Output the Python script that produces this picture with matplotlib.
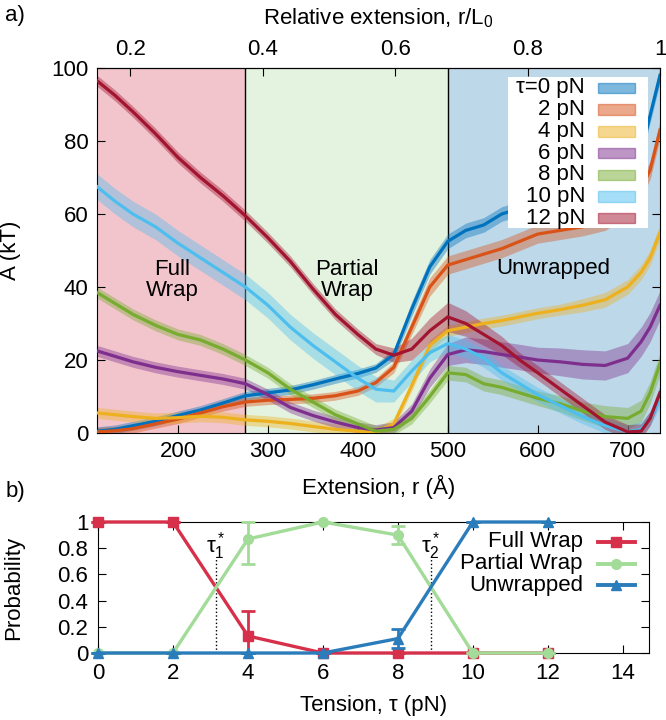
import numpy as np
import matplotlib
matplotlib.use("Agg")
import matplotlib.pyplot as plt
from matplotlib.patches import Rectangle
from matplotlib.lines import Line2D

plt.rcParams['font.family'] = ['Liberation Sans', 'DejaVu Sans']
plt.rcParams['mathtext.fontset'] = 'custom'
plt.rcParams['mathtext.rm'] = 'Liberation Sans'
plt.rcParams['mathtext.it'] = 'Liberation Sans:italic'
FS = 16
plt.rcParams['font.size'] = FS

# ---------------- data: panel a ----------------
L0 = 736.0
r = [110, 130, 150, 175, 200, 225, 250, 275, 300, 325, 350, 375, 400, 420, 440,
     460, 480, 500, 520, 540, 560, 580, 600, 625, 650, 675, 700, 715, 725, 736]

A_0 = [0.5, 1.0, 2.0, 3.2, 4.8, 6.3, 8.2, 10.2, 11.0, 11.8, 13.2, 14.8, 16.3, 17.8, 21.5,
       34, 45.5, 52.5, 55.5, 57, 60, 61.5, 62.5, 63.5, 65, 66.5, 70, 77, 87, 98]
A_2 = [0.3, 0.6, 1.2, 2.5, 3.8, 5.5, 7.2, 8.5, 9.0, 9.2, 9.5, 10.2, 11.5, 13.8, 18,
       29, 40, 46, 47.5, 49, 50.5, 52.5, 54.5, 55.5, 56.5, 58, 62, 67, 72, 83]
A_4 = [5.5, 5.0, 4.5, 4.0, 4.2, 4.6, 4.3, 3.6, 3.2, 2.6, 1.8, 1.0, 0.5, 0.1, 2.5,
       13, 24, 28, 29, 30, 30.8, 31.8, 32.8, 33.8, 35, 36.5, 40, 44, 48, 55]
A_6 = [22.5, 21, 19.5, 18, 16.8, 15.8, 14.8, 13.5, 10.5, 7, 4.8, 3.0, 1.5, 0.8, 1.5,
       6, 15, 21.5, 22.8, 22.3, 21.5, 20.8, 20, 19.5, 18.8, 18.5, 20.5, 25, 29, 35]
A_8 = [38.5, 35.5, 32.5, 29.5, 27, 25.5, 23, 20, 16.5, 12, 8.5, 5, 2.5, 0.5, 1.0,
       4, 10, 16.5, 16, 13.5, 12.5, 11, 9.5, 8, 6, 4.5, 4, 6, 11, 19]
A_10 = [67.5, 63.5, 60, 56.5, 52, 48, 44, 40, 35, 29, 24, 19.5, 15, 12, 11.5,
        17, 22, 24.5, 23, 20.5, 16.5, 13.5, 10.5, 7.5, 4.5, 2, 0.3, 1, 4, 9]
A_12 = [96.5, 92.5, 88, 82, 75.5, 70, 65, 59.5, 53.5, 47, 39.5, 32.5, 27, 23, 21.3,
        23, 28, 31.8, 30, 27, 24, 20, 16.5, 12, 7.5, 3, 0.3, 0.5, 4, 11]

# half-widths of the shaded bands
E_0 = [1.2] * 14 + [1.5, 2, 2, 2, 2, 2, 2, 2, 2, 2, 2, 2, 2, 2, 2, 2]
E_2 = [1.2] * 14 + [1.5, 2, 2.5, 2.5, 2.5, 2.5, 2.5, 2.5, 2.5, 2.5, 2.5, 2.5, 2.5, 2.5, 2.5, 2.5]
E_4 = [1.5] * 14 + [1.5, 1.5, 1.5, 1.5, 1.5, 1.5, 1.5, 1.5, 1.5, 1.5, 1.8, 2, 2, 2, 2, 2]
E_6 = [1.5] * 14 + [1.5, 2, 2.5, 3, 3.5, 3.5, 3.5, 3.5, 3.5, 3.8, 4, 4, 4, 4, 4, 4]
E_8 = [1.5] * 14 + [1.5, 1.5, 1.8, 2, 2, 2, 2, 2, 2, 2.2, 2.5, 3, 3, 3, 3, 3]
E_10 = [3.5] * 14 + [3, 3, 2.5, 2.5, 2.5, 2.5, 2, 2, 2, 2, 2, 2, 2, 2, 2, 2]
E_12 = [1.5] * 14 + [2, 3, 3.5, 4, 3.5, 3, 2.5, 2, 2, 2, 2, 2, 2, 2, 2, 2]

series_labels = ['τ=0 pN', '2 pN', '4 pN', '6 pN', '8 pN', '10 pN', '12 pN']
series_vals = [A_0, A_2, A_4, A_6, A_8, A_10, A_12]
series_err = [E_0, E_2, E_4, E_6, E_8, E_10, E_12]
colors = ['#0072BD', '#D95319', '#EDB120', '#7E2F8E', '#77AC30', '#4DBEEE', '#A2142F']

region_edges = [110, 275, 500, 736]
region_names = ['Full\nWrap', 'Partial\nWrap', 'Unwrapped']
region_colors = ['#f2c4cc', '#e4f2e0', '#bdd8e9']

# ---------------- data: panel b ----------------
tension = [0, 2, 4, 6, 8, 10, 12]
p_full = [1, 1, 0.13, 0, 0, 0, 0]
p_full_lo = [0, 0, 0.13, 0, 0, 0, 0]
p_full_hi = [0, 0, 0.19, 0, 0, 0, 0]
p_partial = [0, 0, 0.87, 1, 0.90, 0, 0]
p_partial_lo = [0, 0, 0.19, 0, 0.07, 0, 0]
p_partial_hi = [0, 0, 0.13, 0, 0.07, 0, 0]
p_unwr = [0, 0, 0, 0, 0.11, 1, 1]
p_unwr_lo = [0, 0, 0, 0, 0.07, 0, 0]
p_unwr_hi = [0, 0, 0, 0, 0.07, 0, 0]
prob_labels = ['Full Wrap', 'Partial Wrap', 'Unwrapped']
prob_colors = ['#d6304a', '#a3db98', '#2b7cba']
prob_markers = ['s', 'o', '^']
tau_star = [3.15, 8.88]

# ---------------- figure ----------------
fig = plt.figure(figsize=(6.66, 7.2), dpi=100)
ax = fig.add_axes([97/666, 1 - 433/720, 563/666, 365/720])

for i in range(3):
    ax.axvspan(region_edges[i], region_edges[i + 1], color=region_colors[i], lw=0, zorder=0)
for e in region_edges[1:3]:
    ax.axvline(e, color='black', lw=1.0, zorder=1)

rr = np.array(r)
for v, e, c in zip(series_vals, series_err, colors):
    v = np.array(v); e = np.array(e)
    ax.fill_between(rr, v - e, v + e, color=c, alpha=0.4, lw=0, zorder=2)
    ax.plot(rr, v, color=c, lw=2.3, zorder=3)

ax.text(194, 42, region_names[0], ha='center', va='center', fontsize=FS, linespacing=1.0)
ax.text(388, 42, region_names[1], ha='center', va='center', fontsize=FS, linespacing=1.0)
ax.text(617, 45, region_names[2], ha='center', va='center', fontsize=FS)

ax.set_xlim(110, 736)
ax.set_ylim(0, 100)
ax.set_xticks([200, 300, 400, 500, 600, 700])
ax.set_yticks([0, 20, 40, 60, 80, 100])
ax.tick_params(direction='in', length=6, right=True, top=False, labelsize=FS, pad=6)
ax.set_xlabel('Extension, r (Å)', fontsize=FS, labelpad=9)
ax.set_ylabel('A (kT)', fontsize=FS, labelpad=22)

sec = ax.secondary_xaxis('top', functions=(lambda x: x / L0, lambda s: s * L0))
sec.set_xticks([0.2, 0.4, 0.6, 0.8, 1.0])
sec.set_xticklabels(['0.2', '0.4', '0.6', '0.8', '1'])
sec.tick_params(direction='in', length=6, labelsize=FS, pad=6)
sec.set_xlabel('Relative extension, r/L$_0$', fontsize=FS, labelpad=10)

# legend of panel a, laid out by hand
ax.add_patch(Rectangle((0.730, 0.562), 0.249, 0.413, transform=ax.transAxes,
                       facecolor='white', edgecolor='none', zorder=5))
for i, (lab, c) in enumerate(zip(series_labels, colors)):
    yc = (433 - 88 - 21.7 * i) / 365
    ax.text(0.867, yc, lab, transform=ax.transAxes, ha='right', va='center',
            fontsize=FS, zorder=6)
    ax.add_patch(Rectangle((0.890, yc - 0.0145), 0.066, 0.029, transform=ax.transAxes,
                           facecolor=c, edgecolor=c, alpha=0.5, lw=1, zorder=6))

fig.text(0.008, 0.978, 'a)', fontsize=FS, va='center')
fig.text(0.008, 0.318, 'b)', fontsize=FS, va='center')

# ---------------- panel b ----------------
bx = fig.add_axes([98/666, 1 - 653/720, 551/666, 131/720])
pvals = [p_full, p_partial, p_unwr]
plo = [p_full_lo, p_partial_lo, p_unwr_lo]
phi = [p_full_hi, p_partial_hi, p_unwr_hi]
for k in range(3):
    bx.errorbar(tension, pvals[k], yerr=[plo[k], phi[k]], color=prob_colors[k], lw=2.4,
                marker=prob_markers[k], ms=7, capsize=5, elinewidth=2, capthick=2,
                clip_on=False, zorder=3 + k)
for t in tau_star:
    bx.plot([t, t], [0, 0.72], color='black', ls=':', lw=1.0, zorder=2)
bx.text(tau_star[0], 0.82, r'τ$_1^*$', ha='center', va='center', fontsize=FS)
bx.text(tau_star[1], 0.82, r'τ$_2^*$', ha='center', va='center', fontsize=FS)

bx.set_xlim(0, 14.7)
bx.set_ylim(0, 1)
bx.set_xticks([0, 2, 4, 6, 8, 10, 12, 14])
bx.set_yticks([0, 0.2, 0.4, 0.6, 0.8, 1.0])
bx.set_yticklabels(['0', '0.2', '0.4', '0.6', '0.8', '1'])
bx.tick_params(direction='in', length=6, right=True, top=True, labelsize=FS, pad=7)
bx.set_xlabel('Tension, τ (pN)', fontsize=FS, labelpad=8)
bx.set_ylabel('Probability', fontsize=FS, labelpad=24)

# legend of panel b, laid out by hand
for k in range(3):
    yc = (653 - 542 - 21.5 * k) / 131
    bx.text(0.880, yc, prob_labels[k], transform=bx.transAxes, ha='right', va='center',
            fontsize=FS)
    bx.add_line(Line2D([0.907, 0.974], [yc, yc], transform=bx.transAxes, color=prob_colors[k],
                       lw=2.8))
    bx.add_line(Line2D([0.9405], [yc], transform=bx.transAxes, color=prob_colors[k],
                       marker=prob_markers[k], ms=7))

fig.savefig('out.png', dpi=100)
